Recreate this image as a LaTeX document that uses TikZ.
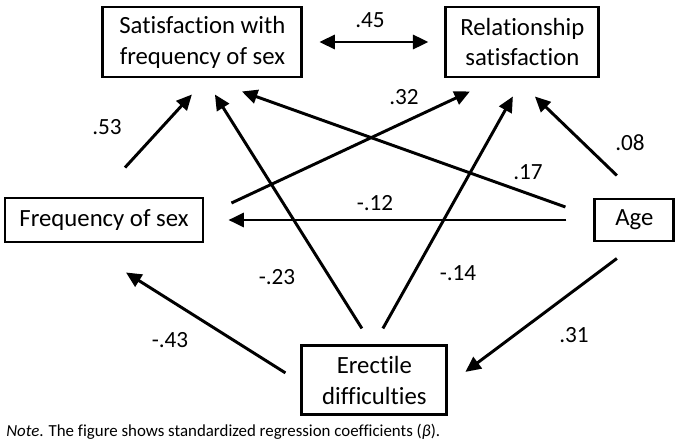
\documentclass[tikz,border=0pt]{standalone}
\usepackage{fontspec}
\setmainfont{Carlito}[Ligatures=NoCommon]
\usetikzlibrary{arrows.meta}

\begin{document}
\begin{tikzpicture}
    \tikzstyle{box}=[draw=black,line width=2.1pt,align=center,inner sep=0pt,font=\fontsize{17.6}{22}\selectfont]
    \tikzstyle{coef}=[inner sep=0pt,font=\fontsize{16.5}{19}\selectfont]
    \tikzstyle{link}=[line width=2.1pt,-{Triangle[length=11pt,width=10pt]}]
    \useasboundingbox (0,0) rectangle (17.075,11.1);
    \node (sf)[box,minimum width=4.975cm,minimum height=1.75cm]   at (5.06,10.05)  {Satisfaction with\\frequency of sex};
    \node (rs)[box,minimum width=3.825cm,minimum height=1.75cm]   at (13.06,10.05) {Relationship\\satisfaction};
    \node (freq)[box,minimum width=4.95cm,minimum height=1.1cm]   at (2.6,5.6)     {Frequency of sex};
    \node (age)[box,minimum width=1.975cm,minimum height=1.05cm]  at (15.86,5.6)   {Age};
    \node (ed)[box,minimum width=3.625cm,minimum height=1.725cm]  at (9.36,1.59)   {Erectile\\difficulties};

    \draw[line width=2.1pt,{Triangle[length=11pt,width=10pt]}-{Triangle[length=11pt,width=10pt]},shorten <=0.4cm,shorten >=0.4cm] (sf.east) -- (rs.west);
    \draw[link] ([xshift=0.525cm,yshift=0.725cm]freq.north)   -- ([xshift=-0.2625cm,yshift=-0.4cm]sf.south);
    \draw[link] ([xshift=-0.3125cm,yshift=0.4cm]ed.north)     -- ([xshift=0.3125cm,yshift=-0.4cm]sf.south);
    \draw[link] ([xshift=-0.7cm,yshift=0.325cm]age.west)      -- ([xshift=0.9875cm,yshift=-0.325cm]sf.south);
    \draw[link] ([xshift=0.675cm,yshift=0.425cm]freq.east)    -- ([xshift=-1.3125cm,yshift=-0.325cm]rs.south);
    \draw[link] ([xshift=0.2125cm,yshift=0.4cm]ed.north)      -- ([xshift=-0.2375cm,yshift=-0.45cm]rs.south);
    \draw[link] ([xshift=-0.4375cm,yshift=0.55cm]age.north)   -- ([xshift=0.3125cm,yshift=-0.45cm]rs.south);
    \draw[link,shorten <=0.675cm,shorten >=0.6cm] (age.west)   -- (freq.east);
    \draw[link] ([xshift=-0.375cm,yshift=0.1875cm]ed.west)    -- ([xshift=0.55cm,yshift=-0.725cm]freq.south);
    \draw[link] ([xshift=-0.4375cm,yshift=-0.4cm]age.south)   -- ([xshift=0.425cm,yshift=0.2125cm]ed.east);

    \node (c45)[coef] at (9.25,10.6)   {.45};
    \node (c53)[coef] at (2.675,7.925) {.53};
    \node (c32)[coef] at (10.1,8.675)  {.32};
    \node (c17)[coef] at (13.2,6.8)    {.17};
    \node (c08)[coef] at (15.75,7.525) {.08};
    \node (c12)[coef] at (9.375,6.025) {-.12};
    \node (c23)[coef] at (6.925,4.175) {-.23};
    \node (c14)[coef] at (11.45,4.275) {-.14};
    \node (c43)[coef] at (4.25,2.6)    {-.43};
    \node (c31)[coef] at (14.35,2.725) {.31};
    \node (note)[anchor=west,inner sep=0pt,font=\fontsize{12}{14}\selectfont] at (0.15,0.3) {\textit{Note}. The figure shows standardized regression coefficients (\textit{β}).};
\end{tikzpicture}
\end{document}
